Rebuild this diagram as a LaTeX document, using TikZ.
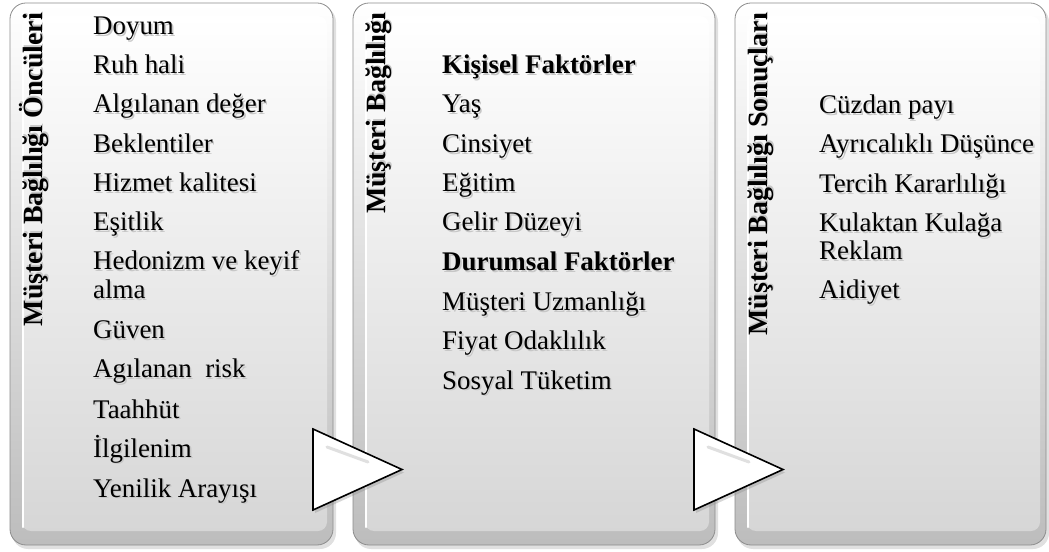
\documentclass[tikz,border=0pt]{standalone}
\usepackage{fontspec}
\setmainfont{Liberation Serif}

\tikzset{
  panelshadow/.style={fill=black!40, opacity=0.30, rounded corners=16bp},
  panelrim/.style={rounded corners=16bp, top color=white, bottom color=black!26,
                   draw=black!45, line width=0.8bp},
  panelface/.style={rounded corners=9bp, top color=white, bottom color=black!16},
  rimlight/.style={draw=white, line width=2.4bp, line cap=round},
  itemtxt/.style={anchor=base west, inner sep=0pt, font=\fontsize{27}{30}\selectfont},
  headtxt/.style={itemtxt, font=\fontsize{27}{30}\selectfont\bfseries},
  titletxt/.style={anchor=base east, inner sep=0pt, rotate=90,
                   font=\fontsize{28}{31}\selectfont\bfseries},
  arrowtri/.style={fill=white, draw=black, line width=1.6bp, line join=miter},
  arrowshadow/.style={fill=black!45, opacity=0.35},
}

% text with a light grey shadow below and to the right, set in one box
\newcommand\shd[1]{%
  \makebox[0pt][l]{\hspace{1.6pt}\raisebox{-1.8pt}{\color{black!22}#1}}#1}
\newcommand\lbl[4][itemtxt]{\node[#1] (#2) at #3 {\shd{#4}};}

% bevelled grey panel between two corners
\newcommand\panel[4]{%
  \path[panelshadow] (#1+2,#2+3) rectangle (#3+3,#4+4);
  \path[panelrim] (#1,#2) rectangle (#3,#4);
  \path[panelface] (#1+12,#2+13) rectangle (#3-6,#4-14);
  \draw[rimlight] (#1+13,#2+28) -- (#1+13,#4-18);}

\begin{document}
\begin{tikzpicture}[x=1bp, y=-1bp]
\useasboundingbox (0,0) rectangle (1049,552);

% panels
\panel{10}{3}{333}{545}
\panel{353}{3}{715}{545}
\panel{735}{3}{1046}{545}

% antecedents
\lbl[titletxt]{t1}{(42,13)}{Müşteri Bağlılığı Öncüleri}
\lbl{a1}{(93,35)}{Doyum}
\lbl{a2}{(93,74)}{Ruh hali}
\lbl{a3}{(93,113)}{Algılanan değer}
\lbl{a4}{(93,153)}{Beklentiler}
\lbl{a5}{(93,192)}{Hizmet kalitesi}
\lbl{a6}{(93,231)}{Eşitlik}
\lbl{a7}{(93,270)}{Hedonizm ve keyif}
\lbl{a7b}{(93,299)}{alma}
\lbl{a8}{(93,339)}{Güven}
\lbl{a9}{(93,378)}{Agılanan\ \ risk}
\lbl{a10}{(93,418)}{Taahhüt}
\lbl{a11}{(93,457)}{İlgilenim}
\lbl{a12}{(93,497)}{Yenilik Arayışı}

% loyalty factors
\lbl[titletxt]{t2}{(385,13)}{Müşteri Bağlılığı}
\lbl[headtxt]{b0}{(442,74)}{Kişisel Faktörler}
\lbl{b1}{(442,113)}{Yaş}
\lbl{b2}{(442,153)}{Cinsiyet}
\lbl{b3}{(442,192)}{Eğitim}
\lbl{b4}{(442,231)}{Gelir Düzeyi}
\lbl[headtxt]{b5}{(442,271)}{Durumsal Faktörler}
\lbl{b6}{(442,311)}{Müşteri Uzmanlığı}
\lbl{b7}{(442,350)}{Fiyat Odaklılık}
\lbl{b8}{(442,389)}{Sosyal Tüketim}

% outcomes
\lbl[titletxt]{t3}{(767,13)}{Müşteri Bağlılığı Sonuçları}
\lbl{c1}{(819,114)}{Cüzdan payı}
\lbl{c2}{(819,153)}{Ayrıcalıklı Düşünce}
\lbl{c3}{(819,193)}{Tercih Kararlılığı}
\lbl{c4}{(819,232)}{Kulaktan Kulağa}
\lbl{c4b}{(819,260)}{Reklam}
\lbl{c5}{(819,299)}{Aidiyet}

% arrows between the panels
\foreach \x in {313,694} {
  \path[arrowshadow] (\x+2,429+3) -- (\x+2,510+3) -- (\x+91,469.5+3) -- cycle;
  \path[arrowtri] (\x,429) -- (\x,510) -- (\x+89,469.5) -- cycle;
  \draw[black!12, line width=3bp, line cap=round] (\x+14,447) -- (\x+55,462);
}
\end{tikzpicture}
\end{document}
